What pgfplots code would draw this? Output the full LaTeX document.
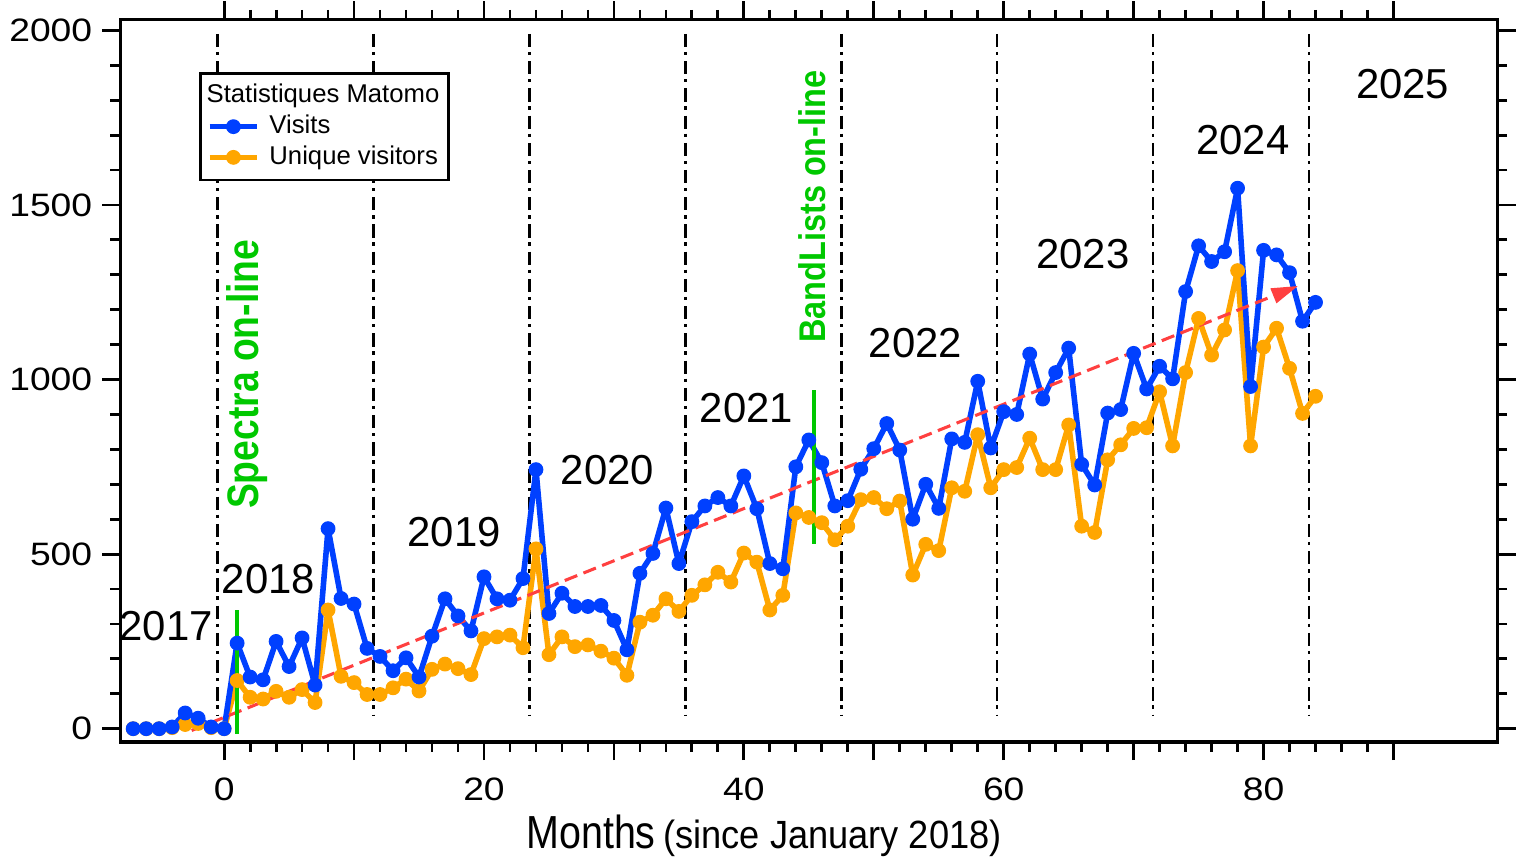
\documentclass[border=0pt]{standalone}
\usepackage{fontspec}
\setmainfont{Liberation Sans}
\newfontfamily\tickfont[FakeStretch=1.15]{Liberation Sans}
\newfontfamily\monthsfont[FakeStretch=0.85]{Liberation Sans}
\newfontfamily\sincefont[FakeStretch=0.92]{Liberation Sans}
\newfontfamily\spectrafont[FakeStretch=0.845]{Liberation Sans}
\newfontfamily\bandfont[FakeStretch=0.874]{Liberation Sans}
\usepackage{pgfplots}
\pgfplotsset{compat=1.18}
\usetikzlibrary{arrows.meta}
\definecolor{visblue}{RGB}{0,64,255}
\definecolor{uniqorange}{RGB}{255,166,0}
\definecolor{labgreen}{RGB}{0,200,0}
\definecolor{trendred}{RGB}{255,64,64}

\pgfplotstableread{
m v
-7 0
-6 0
-5 0
-4 5
-3 45
-2 30
-1 5
0 0
1 245
2 148
3 140
4 250
5 178
6 260
7 125
8 573
9 373
10 357
11 230
12 207
13 166
14 203
15 148
16 265
17 372
18 323
19 280
20 435
21 372
22 368
23 430
24 742
25 330
26 388
27 350
28 350
29 353
30 310
31 226
32 445
33 502
34 632
35 473
36 593
37 638
38 662
39 638
40 724
41 630
42 473
43 458
44 750
45 827
46 762
47 638
48 653
49 743
50 802
51 874
52 798
53 600
54 700
55 631
56 830
57 820
58 995
59 804
60 908
61 900
62 1073
63 944
64 1020
65 1090
66 757
67 698
68 904
69 914
70 1075
71 973
72 1038
73 1002
74 1252
75 1383
76 1338
77 1366
78 1548
79 980
80 1370
81 1357
82 1306
83 1167
84 1221
}\visits

\pgfplotstableread{
m u
-7 0
-6 0
-5 0
-4 3
-3 12
-2 15
-1 3
0 0
1 138
2 90
3 85
4 107
5 90
6 112
7 75
8 340
9 150
10 132
11 98
12 98
13 117
14 142
15 108
16 170
17 185
18 172
19 155
20 258
21 263
22 268
23 232
24 515
25 212
26 263
27 235
28 240
29 222
30 202
31 153
32 305
33 325
34 372
35 336
36 382
37 412
38 448
39 420
40 503
41 477
42 340
43 382
44 618
45 605
46 590
47 541
48 580
49 656
50 662
51 630
52 652
53 440
54 528
55 510
56 690
57 680
58 842
59 690
60 742
61 748
62 832
63 742
64 742
65 870
66 580
67 562
68 770
69 813
70 860
71 862
72 965
73 810
74 1020
75 1175
76 1070
77 1142
78 1312
79 810
80 1093
81 1147
82 1032
83 903
84 952
}\unique

\begin{document}
\begin{tikzpicture}
\begin{axis}[
  scale only axis, width=493.2pt, height=258.7pt,
  xmin=-8, xmax=98, ymin=-38, ymax=2031,
  axis line style={line width=1.1pt},
  tick align=outside,
  major tick length=6.5pt, minor tick length=3.5pt,
  every tick/.style={line width=1pt, black},
  xtick={0,10,...,90}, xticklabels={0,,20,,40,,60,,80,},
  minor x tick num=4,
  ytick={0,500,1000,1500,2000}, yticklabels={0,500,1000,1500,2000},
  minor y tick num=4,
  tick label style={font=\tickfont\fontsize{11.6}{12}\selectfont},
  xticklabel style={yshift=-3pt},
  /pgf/number format/assume math mode=true,
  xlabel={{\monthsfont\fontsize{16.6}{20}\selectfont Months} {\sincefont\fontsize{14.1}{17}\selectfont(since January 2018)}},
  xlabel style={at={(axis description cs:0.4675,-0.148)}, anchor=base},
  legend image code/.code={\draw[mark repeat=2,mark phase=2] plot coordinates {(0pt,0pt) (8.5pt,0pt) (17pt,0pt)};},
  legend cell align=left,
  legend style={at={(axis cs:-1.95,1881)}, anchor=north west, draw=black, line width=1pt,
    font=\fontsize{9.2}{10}\selectfont, inner xsep=2.4pt, inner ysep=2.6pt, row sep=0pt,
    nodes={inner sep=1pt, text height=7pt, text depth=2pt},
    /tikz/every odd column/.append style={column sep=2.4pt}},
]
% year separators
\pgfplotsinvokeforeach{-0.5,11.5,23.5,35.5,47.5,59.5,71.5,83.5}{
  \addplot[forget plot, black, line width=0.9pt, dash pattern=on 4.75pt off 1.7pt on 1.2pt off 2.1pt] coordinates {(#1,1990) (#1,38)};
}
% unique visitors
\addplot[forget plot, uniqorange, line width=2pt, line join=round, mark=*, mark size=2.45pt,
  mark options={solid, fill=uniqorange, draw=uniqorange, line width=0.4pt}] table[x=m,y=u] {\unique};
\addlegendimage{empty legend}
\addlegendentry{\hspace*{-22.5pt}Statistiques Matomo}
% visits
\addplot[visblue, line width=2pt, line join=round, mark=*, mark size=2.45pt,
  mark options={solid, fill=visblue, draw=visblue, line width=0.4pt}] table[x=m,y=v] {\visits};
\addlegendentry{Visits}
\addlegendimage{uniqorange, line width=2pt, mark=*, mark size=2.45pt,
  mark options={solid, fill=uniqorange, draw=uniqorange, line width=0.4pt}}
\addlegendentry{Unique visitors}
% trend arrow
\addplot[forget plot, trendred, line width=1.1pt, dash pattern=on 4.8pt off 2.4pt,
  -{Triangle[length=9.5pt,width=5.5pt]}] coordinates {(-2.5,-5) (82.65,1268)};
% green markers
\addplot[forget plot, labgreen, line width=1.5pt] coordinates {(1,-15) (1,340)};
\addplot[forget plot, labgreen, line width=1.5pt] coordinates {(45.4,530) (45.4,970)};
% labels
\node[rotate=90, anchor=base, text=labgreen, font=\spectrafont\bfseries\fontsize{15.8}{18}\selectfont] at (axis cs:2.65,1015) {Spectra on-line};
\node[rotate=90, anchor=base, text=labgreen, font=\bandfont\bfseries\fontsize{13.3}{16}\selectfont] at (axis cs:46.3,1495) {BandLists on-line};
\begin{scope}[every node/.style={font=\fontsize{15}{18}\selectfont}]
\node at (axis cs:-4.47,295) {2017};
\node at (axis cs:3.4,428) {2018};
\node at (axis cs:17.7,564) {2019};
\node at (axis cs:29.5,741) {2020};
\node at (axis cs:40.2,918) {2021};
\node at (axis cs:53.2,1103) {2022};
\node at (axis cs:66.1,1360) {2023};
\node at (axis cs:78.4,1686) {2024};
\node at (axis cs:90.7,1847) {2025};
\end{scope}
\end{axis}
\end{tikzpicture}
\end{document}
